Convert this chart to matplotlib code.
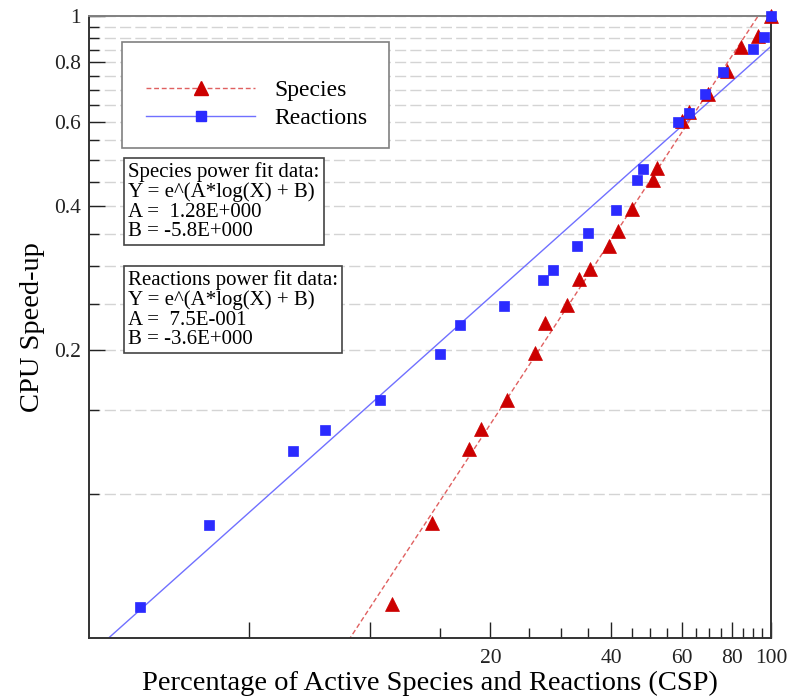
import numpy as np
import matplotlib
matplotlib.use("Agg")
import matplotlib.pyplot as plt
from matplotlib.lines import Line2D
from matplotlib.patches import Rectangle
from matplotlib.ticker import FixedLocator, FixedFormatter, NullFormatter

plt.rcParams['font.family'] = ['Liberation Serif', 'DejaVu Serif']

# data
species_x = [11.4, 14.3, 17.7, 18.9, 22.0, 25.8, 27.3, 31.1, 33.3, 35.5, 39.4,
             41.6, 45.0, 50.7, 52.0, 59.9, 62.6, 69.8, 77.5, 84.3, 93.0, 100]
species_y = [0.059, 0.087, 0.124, 0.137, 0.157, 0.197, 0.228, 0.249, 0.282, 0.296, 0.331,
             0.355, 0.395, 0.454, 0.480, 0.603, 0.631, 0.687, 0.766, 0.860, 0.909, 1.0]
react_x = [2.68, 3.98, 6.44, 7.75, 10.6, 14.95, 16.8, 21.6, 27.0, 28.7, 32.9,
           35.1, 41.0, 46.3, 48.1, 58.5, 62.6, 68.3, 76.0, 90.0, 96.2, 100]
react_y = [0.058, 0.086, 0.123, 0.136, 0.157, 0.196, 0.226, 0.248, 0.280, 0.294, 0.330,
           0.352, 0.393, 0.453, 0.478, 0.599, 0.627, 0.686, 0.764, 0.853, 0.904, 1.0]

# power fit parameters (from the annotation boxes)
species_A, species_B = 1.28, -5.8
react_A, react_B = 0.75, -3.6

x_major = [5, 10, 20, 40, 60, 80, 100]
x_labels = ['', '', '20', '40', '60', '80', '100']
x_minor = [15, 25, 30, 35, 45, 50, 55, 65, 70, 75, 85, 90, 95]
y_major = [0.2, 0.4, 0.6, 0.8, 1.0]
y_labels = ['0.2', '0.4', '0.6', '0.8', '1']
y_minor = [0.1, 0.15, 0.25, 0.3, 0.35, 0.45, 0.5, 0.55, 0.65, 0.7, 0.75, 0.85, 0.9, 0.95]

red_m = '#cc0000'
red_l = '#e06060'
blue_m = '#2b2bff'
blue_l = '#7070ff'

fig = plt.figure(figsize=(7.9, 6.97), dpi=100)
ax = fig.add_axes([89 / 790, 1 - 638 / 697, (771 - 89) / 790, (638 - 16) / 697])
ax.set_xscale('log')
ax.set_yscale('log')

# fit lines
xf = np.array([2.0, 100.0])
ax.plot(xf, np.exp(species_A * np.log(xf) + species_B), color=red_l, lw=1,
        ls=(0, (3.5, 2)), zorder=2)
ax.plot(xf, np.exp(react_A * np.log(xf) + react_B), color=blue_l, lw=1, zorder=2)

ax.plot(species_x, species_y, ls='none', marker='^', ms=10.5, color=red_m,
        mec=red_m, mew=0.5, zorder=3, clip_on=False)
ax.plot(react_x, react_y, ls='none', marker='s', ms=7.3, color=blue_m,
        mec=blue_m, mew=0.5, zorder=4, clip_on=False)

ax.set_xlim(2, 100)
ax.set_ylim(0.05, 1)

ax.xaxis.set_major_locator(FixedLocator(x_major))
ax.xaxis.set_major_formatter(FixedFormatter(x_labels))
ax.xaxis.set_minor_locator(FixedLocator(x_minor))
ax.xaxis.set_minor_formatter(NullFormatter())
ax.yaxis.set_major_locator(FixedLocator(y_major))
ax.yaxis.set_major_formatter(FixedFormatter(y_labels))
ax.yaxis.set_minor_locator(FixedLocator(y_minor))
ax.yaxis.set_minor_formatter(NullFormatter())

ax.tick_params(which='both', direction='in', width=1, colors='#222222', labelsize=15.5)
ax.tick_params(which='major', length=11.5, pad=6)
ax.tick_params(which='minor', length=7)
ax.tick_params(axis='x', which='major', pad=8)

ax.grid(axis='y', which='both', ls=(0, (8, 3)), color='#d4d4d4', lw=1)
ax.set_axisbelow(True)

for side in ['left', 'bottom', 'right']:
    ax.spines[side].set_color('#333333')
    ax.spines[side].set_linewidth(1.4)
ax.spines['top'].set_color('#808080')
ax.spines['top'].set_linewidth(1.4)

ax.set_xlabel('Percentage of Active Species and Reactions (CSP)', fontsize=20.5, labelpad=2)
ax.set_ylabel('CPU Speed-up', fontsize=20.5, labelpad=6)

# legend frame drawn separately so the entries can sit lower inside it
fig.patches.append(Rectangle((122 / 790, 1 - 148 / 697), (389 - 122) / 790, (148 - 42) / 697,
                             transform=fig.transFigure, fc='white', ec='#808080', lw=1.2,
                             zorder=5))
handles = [
    Line2D([], [], color=red_l, lw=1, ls=(0, (3.5, 2)), marker='^', ms=10.5,
           mfc=red_m, mec=red_m),
    Line2D([], [], color=blue_l, lw=1, marker='s', ms=7.3, mfc=blue_m, mec=blue_m),
]
leg = fig.legend(handles, ['Species', 'Reactions'], loc='upper left',
                 bbox_to_anchor=(122 / 790, 1 - 56 / 697), bbox_transform=fig.transFigure,
                 borderaxespad=0, fontsize=17, handlelength=4.65, handletextpad=0.8,
                 numpoints=1, borderpad=1.0, labelspacing=0.28, frameon=False)
leg.set_zorder(6)

box_kw = dict(boxstyle='square,pad=0.2', fc='white', ec='#444444', lw=1.2)
fig.text(128 / 790, 1 - 162 / 697,
         'Species power fit data:\nY = e^(A*log(X) + B)\nA =  1.28E+000\nB = -5.8E+000',
         ha='left', va='top', fontsize=15, linespacing=1.03, bbox=box_kw)
fig.text(128 / 790, 1 - 270 / 697,
         'Reactions power fit data:\nY = e^(A*log(X) + B)\nA =  7.5E-001\nB = -3.6E+000',
         ha='left', va='top', fontsize=15, linespacing=1.03, bbox=box_kw)

fig.savefig('out.png', dpi=100)
